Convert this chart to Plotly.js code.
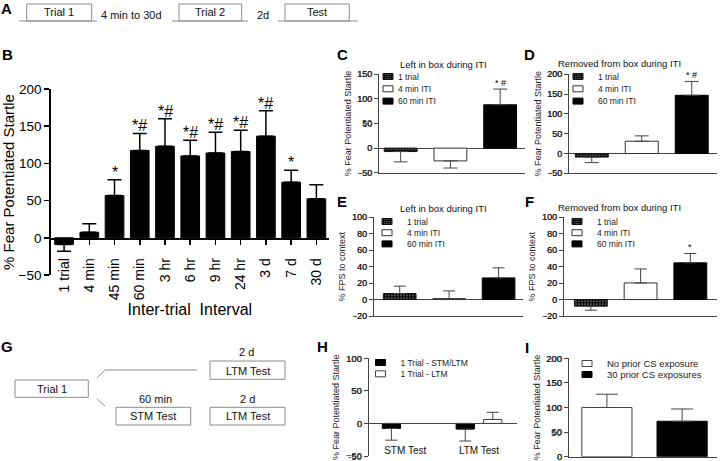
<!DOCTYPE html>
<html><head><meta charset="utf-8">
<script src="https://cdn.plot.ly/plotly-3.0.1.min.js"></script>
<style>html,body{margin:0;padding:0;background:#fff}#chart{width:720px;height:461px}</style>
</head><body><div id="chart"></div>
<script>
// ---------- DATA ----------
// Panel B
const bCats = ['1 trial','4 min','45 min','60 min','3 hr','6 hr','9 hr','24 hr','3 d','7 d','30 d'];
const bVals = [-9, 7.5, 56.9, 117.3, 123, 110, 114, 116, 136.6, 74.7, 52.4];
const bErr  = [9, 11.3, 21, 23, 37, 21, 28, 28.5, 34, 16, 19];
const bSig  = ['', '', '*', '*#', '*#', '*#', '*#', '*#', '*#', '*', ''];
// Panels C-F
const itiGroups = ['1 trial', '4 min ITI', '60 min ITI'];
const cVals = [-7, -26, 88];   const cErr = [21, 14.5, 32];  const cSig = ['', '', '* #'];
const dVals = [-9, 31, 147];   const dErr = [14, 13.5, 35];  const dSig = ['', '', '* #'];
const eVals = [7.3, 1.2, 26.3]; const eErr = [9, 9.3, 12.2]; const eSig = ['', '', ''];
const fVals = [-8, 20.2, 44.6]; const fErr = [5, 17, 11.4];  const fSig = ['', '', '*'];
// Panel H
const hCats = ['STM Test', 'LTM Test'];
const hSeries = ['1 Trial - STM/LTM', '1 Trial - LTM'];
const hVals = [[-7.7, -8.7], [null, 6.1]];
const hErr  = [[18, 18.3], [null, 11]];
// Panel I
const iSeries = ['No prior CS exposure', '30 prior CS exposures'];
const iVals = [100, 72];
const iErr  = [27, 25];
// y tick labels of the small panels
const cTicks = [-50, 0, 50, 100, 150];
const dTicks = [-50, 0, 50, 100, 150, 200];
const eTicks = [-20, 0, 20, 40, 60, 80, 100];
const fTicks = [-20, 0, 20, 40, 60, 80, 100];
const hTicks = [-50, 0, 50, 100];
const iTicks = [0, 50, 100, 150, 200];

// ---------- HELPERS ----------
const FONT = 'Arial, "Liberation Sans", sans-serif';
const px = v => v / 720;
const py = v => 1 - v / 461;
const AX = '#444';

function errY(vals, errs, color, thick, w) {
  return {type: 'data', symmetric: false, visible: true,
    array: vals.map((v, i) => (v == null ? null : (v >= 0 ? errs[i] : 0))),
    arrayminus: vals.map((v, i) => (v == null ? null : (v < 0 ? errs[i] : 0))),
    color: color, thickness: thick, width: w};
}
const grpMarker = [
  {color: '#fff', line: {color: '#111', width: 1}, pattern: {shape: '.', fgcolor: '#000', bgcolor: '#fff', size: 3, solidity: 0.8}},
  {color: '#fff', line: {color: '#333', width: 1}},
  {color: '#000', line: {color: '#000', width: 1}}
];
function itiTraces(vals, errs, n, legendName, capW) {
  return itiGroups.map((g, i) => ({
    type: 'bar', x: [g], y: [vals[i]], name: g, xaxis: 'x' + n, yaxis: 'y' + n,
    legend: legendName, width: 0.66, marker: grpMarker[i],
    error_y: errY([vals[i]], [errs[i]], AX, 1, capW)
  }));
}
function sigAnn(cats, vals, errs, sigs, n, size, shift) {
  const out = [];
  cats.forEach((c, i) => {
    if (!sigs[i]) return;
    out.push({xref: 'x' + n, yref: 'y' + n, x: c, y: vals[i] + errs[i], text: sigs[i],
      showarrow: false, yanchor: 'bottom', yshift: shift, font: {size: size, color: '#000'}});
  });
  return out;
}
function tickAnn(ticks, n, size) {
  return ticks.map(v => ({xref: 'x' + n + ' domain', yref: 'y' + n, x: 0, y: v, text: String(v),
    showarrow: false, xanchor: 'right', yanchor: 'middle', xshift: -5, font: {size: size, color: '#222'}}));
}
function smallX(dom, rng, n, cats) {
  return {domain: dom, range: rng, anchor: 'y' + n, type: 'category', categoryorder: 'array', categoryarray: cats,
    showline: true, linecolor: AX, linewidth: 1, ticks: '', showticklabels: false, showgrid: false, zeroline: false, fixedrange: true};
}
function smallY(dom, rng, dtick, n, title, tfs, zl) {
  return {domain: dom, range: rng, tick0: 0, dtick: dtick, anchor: 'x' + n, showline: true, linecolor: AX, linewidth: 1,
    ticks: 'outside', ticklen: 4, tickcolor: AX, tickwidth: 1, showgrid: false, ticklabeloverflow: 'allow',
    zeroline: zl, zerolinecolor: AX, zerolinewidth: 1,
    tickfont: {size: tfs, color: '#222'}, title: {text: title, font: {size: 9, color: '#222'}, standoff: 4}, fixedrange: true};
}
function legendAt(xp, yp, size) {
  return {x: px(xp), y: py(yp), xanchor: 'left', yanchor: 'top', bgcolor: 'rgba(0,0,0,0)',
    font: {size: size, color: '#222'}, traceorder: 'normal', itemclick: false, itemdoubleclick: false};
}

// ---------- TRACES ----------
const traces = [];
traces.push({type: 'bar', x: bCats, y: bVals, xaxis: 'x', yaxis: 'y', showlegend: false, width: 0.74,
  marker: {color: '#000', line: {color: '#000', width: 1}}, error_y: errY(bVals, bErr, '#000', 1.5, 7)});
traces.push(...itiTraces(cVals, cErr, 2, 'legend', 7));
traces.push(...itiTraces(dVals, dErr, 3, 'legend2', 7));
traces.push(...itiTraces(eVals, eErr, 4, 'legend3', 6));
traces.push(...itiTraces(fVals, fErr, 5, 'legend4', 6));
const hMarkers = [{color: '#000', line: {color: '#000', width: 1}}, {color: '#fff', line: {color: '#444', width: 1}}];
const hOffsets = [-0.31, 0.062];
hSeries.forEach((s, k) => traces.push({type: 'bar', x: hCats, y: hVals[k], name: s, xaxis: 'x6', yaxis: 'y6',
  legend: 'legend5', width: 0.247, offset: hOffsets[k], marker: hMarkers[k],
  error_y: errY(hVals[k], hErr[k], AX, 1, 6)}));
const iMarkers = [{color: '#fff', line: {color: '#444', width: 1}}, {color: '#000', line: {color: '#000', width: 1}}];
iSeries.forEach((s, k) => traces.push({type: 'bar', x: [s], y: [iVals[k]], name: s, xaxis: 'x7', yaxis: 'y7',
  legend: 'legend6', width: 0.667, marker: iMarkers[k], error_y: errY([iVals[k]], [iErr[k]], AX, 1, 11)}));

// ---------- DIAGRAMS (A, G) ----------
const GREY = '#8c8c8c';
const shapes = [];
const diag = [];
function ln(x0, y0, x1, y1) { shapes.push({type: 'line', xref: 'paper', yref: 'paper', x0: px(x0), y0: py(y0), x1: px(x1), y1: py(y1), line: {color: GREY, width: 1}}); }
function bx(x0, y0, x1, y1) { shapes.push({type: 'rect', xref: 'paper', yref: 'paper', x0: px(x0), y0: py(y0), x1: px(x1), y1: py(y1), line: {color: GREY, width: 1}, fillcolor: 'rgba(0,0,0,0)'}); }
function tx(x, y, t, size) { diag.push({xref: 'paper', yref: 'paper', x: px(x), y: py(y), text: t, showarrow: false, xanchor: 'center', yanchor: 'middle', font: {size: size || 11, color: '#111'}}); }
// A
ln(19, 21, 97, 21); bx(26.7, 4, 91.7, 21); tx(59.2, 12.5, 'Trial 1');
tx(131.7, 15, '4 min to 30d');
ln(172, 21, 248, 21); bx(179, 4, 241.7, 21); tx(210.3, 12.5, 'Trial 2');
tx(263, 15.5, '2d');
ln(278, 21, 358, 21); bx(285, 4, 349.3, 21); tx(317, 12.5, 'Test');
// G
bx(15, 380, 88.3, 397.3); tx(51.7, 388.5, 'Trial 1');
ln(96.7, 378, 105, 370); ln(105, 370, 197, 370);
bx(210, 361, 285, 379.3); tx(247.5, 370.5, 'LTM Test'); tx(246, 352, '2 d');
ln(96.7, 398.5, 105, 406);
bx(116, 407.3, 190.7, 425); tx(153.3, 416.3, 'STM Test'); tx(155, 398.5, '60 min');
bx(210, 407.3, 285, 425); tx(247.5, 416.3, 'LTM Test'); tx(247, 398.5, '2 d');

// panel letters
[['A', 6, 8.5], ['B', 7, 54], ['C', 342, 54], ['D', 529, 54], ['E', 342, 201], ['F', 529, 201],
 ['G', 7, 346], ['H', 322, 346], ['I', 526.5, 347]].forEach(([t, x, y]) =>
  diag.push({xref: 'paper', yref: 'paper', x: px(x), y: py(y), text: '<b>' + t + '</b>', showarrow: false,
    xanchor: 'center', yanchor: 'middle', font: {size: 15, color: '#000'}}));
// panel titles
[['Left in box during ITI', 443, 64.5], ['Removed from box during ITI', 619, 63],
 ['Left in box during ITI', 443, 208], ['Removed from box during ITI', 619, 207.5]].forEach(([t, x, y]) =>
  diag.push({xref: 'paper', yref: 'paper', x: px(x), y: py(y), text: t, showarrow: false,
    xanchor: 'center', yanchor: 'middle', font: {size: 9.5, color: '#111'}}));

const annotations = diag
  .concat(sigAnn(bCats, bVals, bErr, bSig, '', 16, -3))
  .concat(sigAnn(itiGroups, cVals, cErr, cSig, 2, 9, -1))
  .concat(sigAnn(itiGroups, dVals, dErr, dSig, 3, 9, -1))
  .concat(sigAnn(itiGroups, eVals, eErr, eSig, 4, 9, -1))
  .concat(sigAnn(itiGroups, fVals, fErr, fSig, 5, 9, -1))
  .concat(tickAnn(cTicks, 2, 9)).concat(tickAnn(dTicks, 3, 9))
  .concat(tickAnn(eTicks, 4, 9)).concat(tickAnn(fTicks, 5, 9))
  .concat(tickAnn(hTicks, 6, 9.5)).concat(tickAnn(iTicks, 7, 9.5));

// ---------- LAYOUT ----------
const layout = {
  width: 720, height: 461, margin: {l: 0, r: 0, t: 0, b: 0},
  paper_bgcolor: '#fff', plot_bgcolor: 'rgba(0,0,0,0)',
  font: {family: FONT, color: '#000'}, barmode: 'overlay', showlegend: true,
  xaxis: {domain: [px(50.7), px(329)], range: [-0.53, 10.5], anchor: 'free', position: py(238.3),
    type: 'category', tickvals: bCats, ticktext: bCats.map(c => c + '\u00a0\u00a0'),
    showline: true, linecolor: '#000', linewidth: 1.5, ticks: 'outside', ticklen: 5,
    tickwidth: 1.5, tickcolor: '#000', tickangle: -90, tickfont: {size: 14, color: '#000'},
    showgrid: false, zeroline: false, fixedrange: true,
    title: {text: 'Inter-trial\u00a0 Interval', font: {size: 16, color: '#000'}, standoff: 4}},
  yaxis: {domain: [py(275), py(89)], range: [-50, 200], dtick: 50, anchor: 'x', showline: true, linecolor: '#000',
    linewidth: 1.5, ticks: 'outside', ticklen: 5, tickwidth: 1.5, tickcolor: '#000', showgrid: false, zeroline: false,
    tickfont: {size: 13.5, color: '#000'}, fixedrange: true,
    title: {text: '% Fear Potentiated Startle', font: {size: 15, color: '#000'}, standoff: 6}},
  xaxis2: smallX([px(379.3), px(525)], [-0.43, 2.5], 2, itiGroups),
  yaxis2: smallY([py(172.7), py(74.3)], [-50, 150], 50, 2, '% Fear Potentiated Startle', 9, true),
  xaxis3: smallX([px(569.3), px(716.7)], [-0.45, 2.5], 3, itiGroups),
  yaxis3: smallY([py(173.3), py(74.3)], [-50, 200], 50, 3, '% Fear Potentiated Startle', 9, true),
  xaxis4: smallX([px(374), px(523.3)], [-0.52, 2.5], 4, itiGroups),
  yaxis4: smallY([py(316), py(217.3)], [-20, 100], 20, 4, '% FPS to context', 9, true),
  xaxis5: smallX([px(564), px(716.7)], [-0.54, 2.53], 5, itiGroups),
  yaxis5: smallY([py(316), py(217.3)], [-20, 100], 20, 5, '% FPS to context', 9, true),
  xaxis6: {domain: [px(369), px(516.7)], range: [-0.49, 1.51], anchor: 'free', position: py(423.3), type: 'category',
    showline: true, linecolor: AX, linewidth: 1, ticks: 'outside', ticklen: 18, tickcolor: 'rgba(0,0,0,0)',
    tickfont: {size: 10, color: '#111'}, showgrid: false, zeroline: false, fixedrange: true},
  yaxis6: smallY([py(456), py(358.3)], [-50, 100], 50, 6, '% Fear Potentiated Startle', 9.5, false),
  xaxis7: {domain: [px(569.3), px(716.7)], range: [-0.5, 1.46], anchor: 'y7', type: 'category',
    categoryorder: 'array', categoryarray: iSeries,
    showline: true, linecolor: AX, linewidth: 1, ticks: '', showticklabels: false, showgrid: false, zeroline: false, fixedrange: true},
  yaxis7: smallY([py(456.7), py(358.3)], [0, 200], 50, 7, '% Fear Potentiated Startle', 9.5, false),
  legend: legendAt(368, 62, 8.5),
  legend2: legendAt(558, 62, 8.5),
  legend3: legendAt(367, 207, 8.5),
  legend4: legendAt(557, 207, 8.5),
  legend5: legendAt(360.5, 348, 8.5),
  legend6: legendAt(567, 349, 9.5),
  shapes: shapes,
  annotations: annotations
};

// compact legend rows (GraphPad-style small swatches, tight spacing)
const legendRows = {legend: 12.3, legend2: 12.3, legend3: 11.2, legend4: 11.2, legend5: 11.3, legend6: 11};
function compactLegends(gd) {
  Object.keys(legendRows).forEach(id => {
    const leg = gd.querySelector('g.' + id);
    if (!leg) return;
    let y0 = null;
    leg.querySelectorAll('g.traces').forEach((it, k) => {
      const m = /translate\(\s*([-\d.]+)[ ,]+([-\d.]+)\s*\)/.exec(it.getAttribute('transform') || '');
      if (!m) return;
      if (y0 === null) y0 = parseFloat(m[2]);
      it.setAttribute('transform', 'translate(' + m[1] + ',' + (y0 + k * legendRows[id]) + ')');
      const t = it.querySelector('text.legendtext');
      if (t) t.setAttribute('x', 30);
      it.querySelectorAll('g.legendpoints path').forEach(p => p.setAttribute('d', 'M5,3H-5V-3H5Z'));
    });
  });
}
Plotly.newPlot('chart', traces, layout, {displayModeBar: false, staticPlot: true}).then(gd => {
  compactLegends(gd);
});
</script>
</body></html>
